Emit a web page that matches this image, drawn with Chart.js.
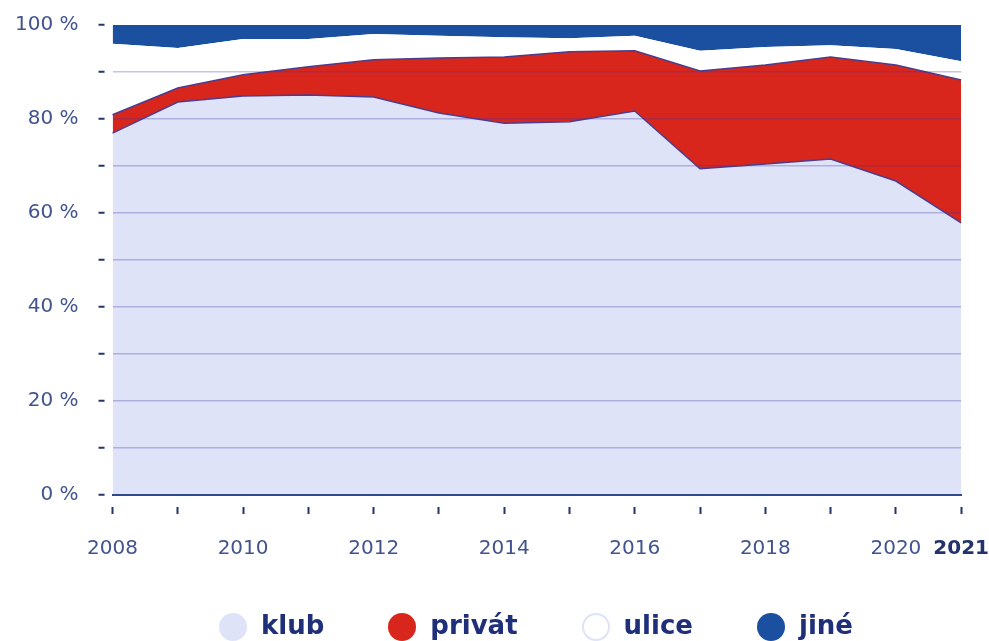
<!DOCTYPE html>
<html lang="cs">
<head>
    <meta charset="UTF-8">
    <title>klub / privát / ulice / jiné</title>
    <script src="https://cdn.jsdelivr.net/npm/chart.js"></script>
    <style>
        html, body { margin: 0; padding: 0; background: #ffffff; overflow: hidden; }
        .wrap { width: 989px; height: 641px; position: relative; overflow: hidden; }
        .graf { position: absolute; left: 0; top: -7px; width: 1012px; height: 648px; }
        .legenda {
            position: absolute; left: 219px; top: 612px; height: 30px;
            display: flex; align-items: center; gap: 64px;
            font-family: 'DejaVu Sans', sans-serif; font-weight: bold; font-size: 26px; color: #1f2f7a;
        }
        .legenda .polozka { display: flex; align-items: center; gap: 14px; }
        .legenda .kruh { width: 28px; height: 28px; border-radius: 50%; box-sizing: border-box; }
        .legenda span { line-height: 30px; position: relative; top: -2px; }
    </style>
</head>
<body>
    <div class="wrap">
        <div class="graf"><canvas id="podilChart"></canvas></div>
        <div class="legenda" id="legenda"></div>
    </div>
    <script>
        // data (% podíl)
        const roky = ['2008', '2009', '2010', '2011', '2012', '2013', '2014', '2015', '2016', '2017', '2018', '2019', '2020', '2021'];
        const klub = [77.0, 83.6, 84.9, 85.1, 84.7, 81.3, 79.1, 79.4, 81.7, 69.4, 70.4, 71.5, 66.8, 57.9];
        const privat = [3.9, 3.0, 4.5, 6.0, 7.9, 11.7, 14.1, 14.9, 12.8, 20.8, 21.1, 21.7, 24.7, 30.4];
        const ulice = [15.1, 8.5, 7.6, 5.9, 5.5, 4.7, 4.2, 2.9, 3.2, 4.3, 3.8, 2.5, 3.4, 4.0];
        const jine = [4.0, 4.9, 3.0, 3.0, 1.9, 2.3, 2.6, 2.8, 2.3, 5.5, 4.7, 4.3, 5.1, 7.7];

        const nazvy = ['klub', 'privát', 'ulice', 'jiné'];
        const barvy = ['#dfe3f7', '#d9261c', '#ffffff', '#1b4fa0'];
        const okraje = ['#4b3c8e', '#4b3c8e', '#ffffff', '#1b4fa0'];

        const pismo = "'DejaVu Sans', sans-serif";
        const modraText = '#42548f';
        const tmavaModra = '#22336e';

        // legenda
        const legenda = document.getElementById('legenda');
        nazvy.forEach((n, i) => {
            const p = document.createElement('div');
            p.className = 'polozka';
            const k = document.createElement('div');
            k.className = 'kruh';
            k.style.background = barvy[i];
            if (i === 2) k.style.border = '2px solid #dfe3f7';
            const t = document.createElement('span');
            t.textContent = n;
            p.appendChild(k);
            p.appendChild(t);
            legenda.appendChild(p);
        });

        const ctx = document.getElementById('podilChart').getContext('2d');

        new Chart(ctx, {
            type: 'line',
            data: {
                labels: roky,
                datasets: [klub, privat, ulice, jine].map((hodnoty, i) => ({
                    label: nazvy[i],
                    data: hodnoty,
                    backgroundColor: barvy[i],
                    borderColor: okraje[i],
                    borderWidth: i < 2 ? 1.5 : 0,
                    fill: i === 0 ? 'origin' : '-1',
                    pointRadius: 0,
                    tension: 0
                }))
            },
            options: {
                responsive: true,
                maintainAspectRatio: false,
                animation: false,
                layout: {
                    padding: { top: 0, right: 0, left: -5, bottom: 57 }
                },
                scales: {
                    x: {
                        offset: false,
                        grid: {
                            drawOnChartArea: false,
                            tickLength: 19,
                            tickWidth: 2,
                            tickColor: tmavaModra,
                            tickBorderDash: [0, 11, 7, 100]
                        },
                        border: { display: true, color: '#2e4a8a', width: 2, z: 1 },
                        ticks: {
                            autoSkip: false,
                            maxRotation: 0,
                            padding: 23,
                            color: (c) => c.index === 13 ? tmavaModra : modraText,
                            font: (c) => ({ family: pismo, size: 20, weight: c.index === 13 ? 'bold' : 'normal' }),
                            callback: function (val, i) {
                                const rok = parseInt(roky[i]);
                                return (rok % 2 === 0 || i === roky.length - 1) ? roky[i] : '';
                            }
                        }
                    },
                    y: {
                        stacked: true,
                        min: 0,
                        max: 100,
                        border: { display: false },
                        grid: {
                            z: 1,
                            color: (c) => (c.tick && (c.tick.value === 100 || c.tick.value === 0)) ? 'rgba(0,0,0,0)' : 'rgba(70,50,170,0.3)',
                            lineWidth: 1.5,
                            tickLength: 14,
                            tickWidth: 2,
                            tickColor: tmavaModra,
                            tickBorderDash: [6, 100]
                        },
                        ticks: {
                            stepSize: 10,
                            padding: 20,
                            color: modraText,
                            font: { family: pismo, size: 20 },
                            callback: (v) => v % 20 === 0 ? v + ' %' : ''
                        }
                    }
                },
                plugins: {
                    legend: { display: false },
                    tooltip: { enabled: false }
                }
            }
        });
    </script>
</body>
</html>
